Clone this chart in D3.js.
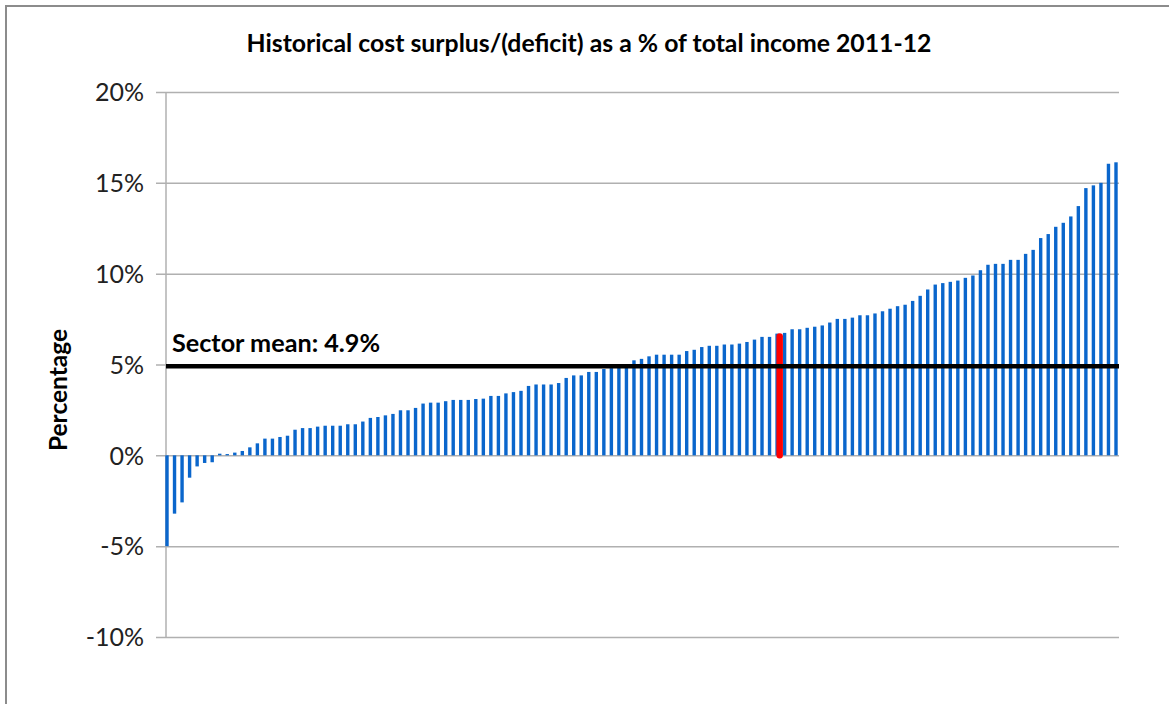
<!DOCTYPE html>
<html>
<head>
<meta charset="utf-8">
<script src="https://cdn.jsdelivr.net/npm/d3@7"></script>
<style>
  body { margin: 0; background: #fff; }
  svg { display: block; }
  text { font-family: Lato, "Open Sans", sans-serif; }
</style>
</head>
<body>
<svg id="chart" width="1169" height="704"></svg>
<script>
// chart data
var chartTitle = "Historical cost surplus/(deficit) as a % of total income 2011-12";
var yTitle = "Percentage";
var yTicks = [-10, -5, 0, 5, 10, 15, 20];
var sectorMean = 4.9;
var meanLabel = "Sector mean: 4.9%";
var highlightIndex = 81;

// surplus/(deficit) % of total income, one per institution, sorted
var surplus = [
  -5.0, -3.21, -2.59, -1.23, -0.61, -0.42, -0.38, 0.09, 0.07, 0.15,
  0.24, 0.44, 0.66, 0.92, 0.92, 1.01, 1.08, 1.41, 1.50, 1.50,
  1.58, 1.63, 1.63, 1.63, 1.71, 1.71, 1.86, 2.06, 2.11, 2.20,
  2.28, 2.48, 2.48, 2.61, 2.85, 2.90, 2.90, 2.98, 3.05, 3.05,
  3.05, 3.10, 3.12, 3.27, 3.27, 3.41, 3.48, 3.55, 3.82, 3.90,
  3.90, 3.90, 3.98, 4.26, 4.40, 4.40, 4.59, 4.59, 4.75, 4.80,
  4.84, 4.88, 5.23, 5.31, 5.45, 5.54, 5.54, 5.54, 5.54, 5.74,
  5.81, 5.96, 6.03, 6.03, 6.10, 6.10, 6.15, 6.24, 6.37, 6.52,
  6.52, 6.70, 6.74, 6.94, 6.94, 7.02, 7.08, 7.15, 7.31, 7.51,
  7.51, 7.58, 7.71, 7.71, 7.81, 7.93, 8.07, 8.21, 8.29, 8.50,
  8.78, 9.13, 9.40, 9.48, 9.55, 9.62, 9.77, 9.90, 10.19, 10.49,
  10.54, 10.54, 10.76, 10.76, 11.09, 11.31, 11.96, 12.18, 12.58, 12.80,
  13.15, 13.72, 14.71, 14.86, 15.00, 16.05, 16.13
];

var svg = d3.select("#chart");

// grey frame of the chart area
svg.append("path")
    .attr("d", "M6,704 V6 H1169")
    .attr("fill", "none")
    .attr("stroke", "#8c8c8c")
    .attr("stroke-width", 2);

var plotLeft = 166, plotRight = 1119, plotTop = 92, plotBottom = 637;

var y = d3.scaleLinear()
    .domain([-10, 20])
    .range([plotBottom, plotTop]);

var x = d3.scalePoint()
    .domain(d3.range(surplus.length))
    .range([plotLeft + 1, plotRight - 3]);

// gridlines + tick labels
var yAxis = d3.axisLeft(y)
    .tickValues(yTicks)
    .tickSize(-(plotRight - plotLeft))
    .tickFormat(function(d) { return d + "%"; });

var gAxis = svg.append("g")
    .attr("transform", "translate(" + plotLeft + ",0)")
    .call(yAxis);
gAxis.attr("font-family", null).attr("font-size", null);
gAxis.select(".domain").remove();
gAxis.selectAll(".tick line")
    .attr("x1", -10)
    .attr("stroke", "#b0b0b0")
    .attr("stroke-width", 1.5);
gAxis.selectAll(".tick text")
    .attr("x", -22)
    .attr("dy", "0.35em")
    .attr("fill", "#222")
    .style("font-size", "25px");

// vertical axis line
svg.append("line")
    .attr("x1", plotLeft).attr("x2", plotLeft)
    .attr("y1", plotTop).attr("y2", plotBottom)
    .attr("stroke", "#b0b0b0")
    .attr("stroke-width", 1.5);

// bars
svg.append("g")
    .selectAll("rect")
    .data(surplus)
    .enter().append("rect")
    .attr("x", function(d, i) { return x(i) - 1.7; })
    .attr("width", 3.4)
    .attr("y", function(d) { return y(Math.max(0, d)); })
    .attr("height", function(d) { return Math.abs(y(d) - y(0)); })
    .attr("fill", "#0a66cc");

// highlighted institution
svg.append("line")
    .attr("x1", x(highlightIndex) + 2.6)
    .attr("x2", x(highlightIndex) + 2.6)
    .attr("y1", y(0))
    .attr("y2", y(surplus[highlightIndex]) + 3)
    .attr("stroke", "#ff0000")
    .attr("stroke-width", 6.5)
    .attr("stroke-linecap", "round");

// sector mean line
svg.append("line")
    .attr("x1", plotLeft)
    .attr("x2", plotRight)
    .attr("y1", y(sectorMean))
    .attr("y2", y(sectorMean))
    .attr("stroke", "#000")
    .attr("stroke-width", 4.5);

svg.append("text")
    .attr("x", 172)
    .attr("y", y(sectorMean) - 14)
    .attr("font-weight", "bold")
    .style("font-size", "25.2px")
    .text(meanLabel);

// titles
svg.append("text")
    .attr("x", 589)
    .attr("y", 52)
    .attr("text-anchor", "middle")
    .attr("font-weight", "bold")
    .style("font-size", "24.8px")
    .text(chartTitle);

svg.append("text")
    .attr("transform", "translate(67,390) rotate(-90)")
    .attr("text-anchor", "middle")
    .attr("font-weight", "bold")
    .style("font-size", "24.5px")
    .text(yTitle);
</script>
</body>
</html>
